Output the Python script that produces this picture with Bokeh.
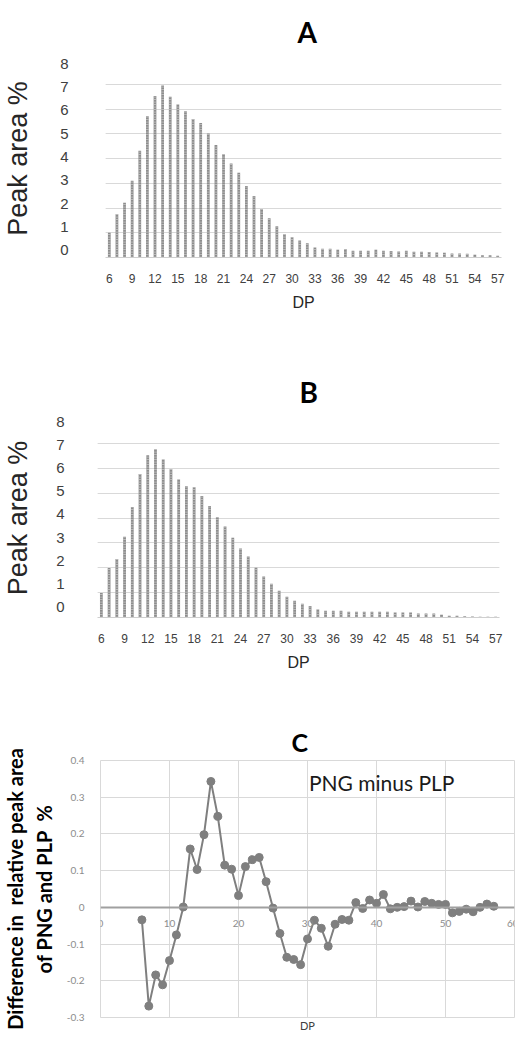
from bokeh.plotting import figure
from bokeh.models import (FixedTicker, LinearAxis, CustomJSTickFormatter, Label,
                          Range1d, Grid)
from bokeh.embed import file_html
from bokeh.resources import INLINE

# ---------------- data ----------------
dp = list(range(6, 58))

area_A = [1.00, 1.75, 2.21, 3.10, 4.31, 5.71, 6.53, 6.95, 6.49, 6.18,
          5.91, 5.60, 5.43, 5.01, 4.55, 4.17, 3.80, 3.42, 2.89, 2.48,
          1.96, 1.59, 1.26, 0.94, 0.82, 0.69, 0.58, 0.40, 0.35, 0.35,
          0.31, 0.34, 0.27, 0.27, 0.27, 0.31, 0.27, 0.26, 0.24, 0.27,
          0.23, 0.23, 0.22, 0.20, 0.19, 0.16, 0.16, 0.15, 0.11, 0.09,
          0.09, 0.07]

area_B = [0.98, 1.99, 2.35, 3.25, 4.44, 5.77, 6.52, 6.76, 6.35, 5.96,
          5.55, 5.28, 5.24, 4.88, 4.48, 4.03, 3.66, 3.21, 2.77, 2.45,
          2.00, 1.65, 1.36, 1.08, 0.83, 0.67, 0.55, 0.46, 0.32, 0.27,
          0.27, 0.27, 0.23, 0.23, 0.23, 0.23, 0.23, 0.23, 0.20, 0.20,
          0.20, 0.16, 0.16, 0.16, 0.11, 0.07, 0.07, 0.05, 0.04, 0.03,
          0.03, 0.03]

diff_C = [-0.034, -0.269, -0.184, -0.211, -0.145, -0.075, 0.001, 0.159, 0.103, 0.198,
          0.343, 0.248, 0.115, 0.104, 0.032, 0.111, 0.130, 0.136, 0.070, -0.002,
          -0.071, -0.136, -0.142, -0.156, -0.086, -0.035, -0.057, -0.106, -0.046, -0.033,
          -0.035, 0.013, -0.003, 0.020, 0.011, 0.035, -0.004, 0.000, 0.002, 0.017,
          0.001, 0.016, 0.011, 0.008, 0.008, -0.015, -0.011, -0.005, -0.012, 0.000,
          0.009, 0.003]

bar_x_ticks = list(range(6, 58, 3))
bar_y_ticks = list(range(0, 9))
c_x_ticks = [0, 10, 20, 30, 40, 50, 60]
c_y_ticks = [-0.3, -0.2, -0.1, 0.0, 0.1, 0.2, 0.3, 0.4]

ARIAL = "Liberation Sans"
CAL = "Lato"
NB = "\u00a0"


def bar_panel(letter, values, fw, fh, top, bottom, left, right,
              title_off, lab_range, lab_standoff, tick_standoff, title_standoff):
    p = figure(frame_width=fw, frame_height=fh, output_backend="svg",
               toolbar_location=None,
               x_range=Range1d(5.5, 57.5), y_range=Range1d(0, 8),
               min_border_top=top, min_border_bottom=bottom,
               min_border_left=left, min_border_right=right,
               title=letter)
    p.extra_y_ranges = {"lab": Range1d(*lab_range)}
    p.outline_line_color = None

    p.title.text_font = CAL
    p.title.text_font_size = "28px"
    p.title.text_font_style = "bold"
    p.title.text_color = "black"
    p.title.align = "left"
    p.title.offset = title_off
    p.title.standoff = title_standoff

    p.yaxis.visible = False
    p.xgrid.grid_line_color = None
    p.add_layout(Grid(dimension=1, ticker=FixedTicker(ticks=bar_y_ticks),
                      grid_line_color="#d9d9d9", grid_line_width=1))

    p.vbar(x=dp, top=values, width=0.36, fill_color="#8d8d8d", line_color=None,
           hatch_pattern="horizontal_line", hatch_color="#cfcfcf",
           hatch_scale=2.5, hatch_weight=0.8)

    yax = LinearAxis(y_range_name="lab", ticker=FixedTicker(ticks=bar_y_ticks))
    yax.axis_label = "Peak area %"
    yax.axis_label_text_font = ARIAL
    yax.axis_label_text_font_size = "27px"
    yax.axis_label_text_font_style = "normal"
    yax.axis_label_text_color = "#262626"
    yax.axis_label_standoff = lab_standoff
    yax.major_label_text_font = ARIAL
    yax.major_label_text_font_size = "15px"
    yax.major_label_text_color = "#404040"
    yax.major_label_standoff = tick_standoff
    yax.major_tick_line_color = None
    yax.minor_tick_line_color = None
    yax.axis_line_color = None
    p.add_layout(yax, "left")

    xa = p.xaxis[0]
    xa.ticker = FixedTicker(ticks=bar_x_ticks)
    xa.axis_label = "DP"
    xa.axis_label_text_font = ARIAL
    xa.axis_label_text_font_size = "16px"
    xa.axis_label_text_font_style = "normal"
    xa.axis_label_text_color = "#262626"
    xa.axis_label_standoff = 8
    xa.major_label_text_font = ARIAL
    xa.major_label_text_font_size = "12px"
    xa.major_label_text_color = "#404040"
    xa.major_label_standoff = 10
    xa.major_tick_line_color = None
    xa.minor_tick_line_color = None
    xa.axis_line_color = "#cfcfcf"
    return p


pA = bar_panel("A", area_A, 396, 198, 59, 63, 96, 19, 192,
               (-0.313, 8.18), 24, 31, 22)
pB = bar_panel("B", area_B, 402, 199, 98, 73, 88, 21, 202,
               (-0.445, 8.139), 20, 27, 19)

# ---------------- panel C ----------------
pC = figure(frame_width=414, frame_height=257, output_backend="svg",
            toolbar_location=None,
            x_range=Range1d(0, 60), y_range=Range1d(-0.3, 0.4),
            min_border_top=70, min_border_bottom=14,
            min_border_left=93, min_border_right=4, title="C")
pC.title.text_font = CAL
pC.title.text_font_size = "25px"
pC.title.text_font_style = "bold"
pC.title.text_color = "black"
pC.title.align = "left"
pC.title.offset = 191
pC.title.standoff = 7

pC.outline_line_color = "#d9d9d9"
pC.xgrid.ticker = FixedTicker(ticks=c_x_ticks)
pC.ygrid.ticker = FixedTicker(ticks=c_y_ticks)
pC.xgrid.grid_line_color = "#d9d9d9"
pC.ygrid.grid_line_color = "#d9d9d9"

pC.line(dp, diff_C, line_color="#7f7f7f", line_width=2)
pC.scatter(dp, diff_C, size=8, fill_color="#7f7f7f", line_color="#7f7f7f")

ya = pC.yaxis[0]
ya.ticker = FixedTicker(ticks=c_y_ticks)
ya.formatter = CustomJSTickFormatter(
    code="return Math.abs(tick) < 1e-9 ? '0' : tick.toFixed(1);")
ya.axis_label = ("Difference in" + NB + " relative peak area\n"
                 "of PNG and PLP" + NB + " %")
ya.axis_label_text_font = CAL
ya.axis_label_text_font_size = "20px"
ya.axis_label_text_font_style = "bold"
ya.axis_label_text_color = "black"
ya.axis_label_text_line_height = 1.2
ya.axis_label_standoff = 8
ya.major_label_text_font = CAL
ya.major_label_text_font_size = "10px"
ya.major_label_text_color = "#8c8c8c"
ya.major_label_standoff = 10
ya.major_tick_line_color = None
ya.minor_tick_line_color = None
ya.axis_line_color = None

xc = pC.xaxis[0]
xc.ticker = FixedTicker(ticks=c_x_ticks)
xc.fixed_location = 0
xc.major_label_text_font = CAL
xc.major_label_text_font_size = "10px"
xc.major_label_text_color = "#8c8c8c"
xc.major_label_standoff = 7
xc.major_tick_line_color = None
xc.minor_tick_line_color = None
xc.axis_line_color = "#a0a0a0"
xc.axis_line_width = 2

xl = LinearAxis(ticker=FixedTicker(ticks=[]))
xl.axis_label = "DP"
xl.axis_label_text_font = CAL
xl.axis_label_text_font_size = "11px"
xl.axis_label_text_font_style = "normal"
xl.axis_label_text_color = "#404040"
xl.axis_label_standoff = 1
xl.major_label_text_font_size = "0px"
xl.major_tick_line_color = None
xl.minor_tick_line_color = None
xl.axis_line_color = None
pC.add_layout(xl, "below")

pC.add_layout(Label(x=30.2, y=0.341, text="PNG minus PLP", text_font=CAL,
                    text_font_size="21px", text_color="#1a1a1a",
                    text_baseline="middle", text_align="left"))

open("out.html", "w").write(file_html([pA, pB, pC], INLINE))
